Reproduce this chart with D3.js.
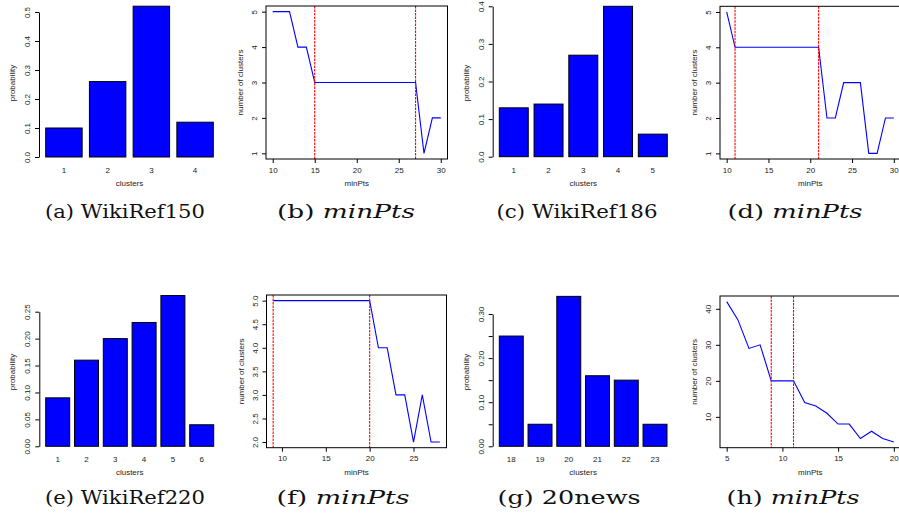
<!DOCTYPE html>
<html><head><meta charset="utf-8">
<script src="https://cdn.jsdelivr.net/npm/d3@7"></script>
<style>body{margin:0;background:#fff}svg{display:block}</style>
</head><body><svg id="c" width="899" height="522"></svg>
<script>
// ---------- data ----------
const clustersA = ["1","2","3","4"];
const probA = [0.10, 0.26, 0.52, 0.12];
const yTicksA = [0, 0.1, 0.2, 0.3, 0.4, 0.5];

const clustersC = ["1","2","3","4","5"];
const probC = [0.13, 0.14, 0.27, 0.40, 0.06];
const yTicksC = [0, 0.1, 0.2, 0.3, 0.4];

const clustersE = ["1","2","3","4","5","6"];
const probE = [0.09, 0.16, 0.20, 0.23, 0.28, 0.04];
const yTicksE = [0, 0.05, 0.10, 0.15, 0.20, 0.25];

const clustersG = ["18","19","20","21","22","23"];
const probG = [0.25, 0.05, 0.34, 0.16, 0.15, 0.05];
const yTicksG = [0, 0.05, 0.10, 0.15, 0.20, 0.25, 0.30];
const yLabelsG = [0, 0.10, 0.20, 0.30];

const minPtsB = [10,11,12,13,14,15,16,17,18,19,20,21,22,23,24,25,26,27,28,29,30];
const nClustB = [5,5,5,4,4,3,3,3,3,3,3,3,3,3,3,3,3,3,1,2,2];
const cutsB = [15, 27];

const minPtsD = [10,11,12,13,14,15,16,17,18,19,20,21,22,23,24,25,26,27,28,29,30];
const nClustD = [5,4,4,4,4,4,4,4,4,4,4,4,2,2,3,3,3,1,1,2,2];
const cutsD = [11, 21];

const minPtsF = [9,10,11,12,13,14,15,16,17,18,19,20,21,22,23,24,25,26,27,28];
const nClustF = [5,5,5,5,5,5,5,5,5,5,5,5,4,4,3,3,2,3,2,2];
const cutsF = [9, 20];

const minPtsH = [5,6,7,8,9,10,11,12,13,14,15,16,17,18,19,20];
const nClustH = [42,37,29,30,20,20,20,14,13,11,8,8,4,6,4,3];
const cutsH = [9, 11];

const xTicksBD = [10,15,20,25,30];
const yTicksBD = [1,2,3,4,5];
const xTicksF = [10,15,20,25];
const yTicksF = [2.0,2.5,3.0,3.5,4.0,4.5,5.0];
const xTicksH = [5,10,15,20];
const yTicksH = [10,20,30,40];

const captions = [
  {lab:"(a) ", name:"WikiRef150", it:false},
  {lab:"(b) ", name:"minPts", it:true},
  {lab:"(c) ", name:"WikiRef186", it:false},
  {lab:"(d) ", name:"minPts", it:true},
  {lab:"(e) ", name:"WikiRef220", it:false},
  {lab:"(f) ", name:"minPts", it:true},
  {lab:"(g) ", name:"20news", it:false},
  {lab:"(h) ", name:"minPts", it:true}
];

// ---------- drawing ----------
const svg = d3.select("#c");
const FONT = "Liberation Sans";
const SERIF = "DejaVu Serif";
const TXT = "#222";

function styleYAxis(g, offset){
  g.selectAll(".tick line").attr("stroke","#000");
  g.selectAll(".tick text")
    .attr("x",0).attr("dy",null).attr("y",0)
    .attr("text-anchor","middle")
    .attr("transform",`translate(${-offset},0) rotate(-90)`)
    .attr("fill",TXT)
    .attr("font-family",FONT).attr("font-size",8);
}

function barPanel(o){
  const g = svg.append("g");
  const x = d3.scaleBand().domain(o.cats).range(o.xr).paddingInner(1/6).paddingOuter(0);
  const y = d3.scaleLinear().domain(o.yd).range(o.yr);
  g.selectAll("rect.bar").data(o.vals).join("rect")
    .attr("x",(d,i)=>x(o.cats[i])).attr("width",x.bandwidth())
    .attr("y",d=>y(d)).attr("height",d=>y(0)-y(d))
    .attr("fill","#0000ff").attr("stroke","#000").attr("stroke-width",1);
  const ax = g.append("g").attr("transform",`translate(${o.axisX},0)`)
    .call(d3.axisLeft(y).tickValues(o.ticks).tickSize(4).tickSizeOuter(0)
      .tickFormat(d=> (o.labs ? (o.labs.some(v=>Math.abs(v-d)<1e-9) ? d3.format(o.fmt)(d) : "") : d3.format(o.fmt)(d))));
  ax.select(".domain").attr("stroke","#000");
  styleYAxis(ax, 9);
  g.selectAll("text.xl").data(o.cats).join("text")
    .attr("x",d=>x(d)+x.bandwidth()/2).attr("y",o.tickBase)
    .attr("text-anchor","middle").attr("fill",TXT)
    .attr("font-family",FONT).attr("font-size",8).text(d=>d);
  g.append("text").attr("x",(o.xr[0]+o.xr[1])/2).attr("y",o.titleBase)
    .attr("text-anchor","middle").attr("fill",TXT)
    .attr("font-family",FONT).attr("font-size",8).text("clusters");
  g.append("text").attr("transform",`translate(${o.axisX-24},${o.ymid}) rotate(-90)`)
    .attr("text-anchor","middle").attr("fill",TXT)
    .attr("font-family",FONT).attr("font-size",8).text("probability");
}

function linePanel(o){
  const g = svg.append("g");
  const xmin=d3.min(o.xs), xmax=d3.max(o.xs), ymin=d3.min(o.ys), ymax=d3.max(o.ys);
  const px=(xmax-xmin)*0.04, py=(ymax-ymin)*0.04;
  const x = d3.scaleLinear().domain([xmin-px, xmax+px]).range([o.box[0], o.box[1]]);
  const y = d3.scaleLinear().domain([ymin-py, ymax+py]).range([o.box[3], o.box[2]]);
  g.append("path").datum(o.xs.map((v,i)=>[v,o.ys[i]]))
    .attr("d", d3.line().x(d=>x(d[0])).y(d=>y(d[1])))
    .attr("fill","none").attr("stroke","#0000ff").attr("stroke-width",1.1);
  g.selectAll("line.cut").data(o.cuts).join("line")
    .attr("x1",d=>x(d)).attr("x2",d=>x(d))
    .attr("y1",o.box[2]).attr("y2",o.box[3])
    .attr("stroke","#ff0000").attr("stroke-width",1.1).attr("stroke-dasharray","2.5,1");
  g.append("rect").attr("x",o.box[0]).attr("y",o.box[2])
    .attr("width",o.box[1]-o.box[0]).attr("height",o.box[3]-o.box[2])
    .attr("fill","none").attr("stroke","#000").attr("stroke-width",1);
  const ax = g.append("g").attr("transform",`translate(${o.box[0]},0)`)
    .call(d3.axisLeft(y).tickValues(o.yt).tickSize(4).tickFormat(d3.format(o.yfmt)));
  ax.select(".domain").remove();
  styleYAxis(ax, 9);
  const bx = g.append("g").attr("transform",`translate(0,${o.box[3]})`)
    .call(d3.axisBottom(x).tickValues(o.xt).tickSize(4).tickFormat(d3.format("d")));
  bx.select(".domain").remove();
  bx.selectAll(".tick line").attr("stroke","#000");
  bx.selectAll(".tick text").attr("dy",null).attr("y",o.tickBase-o.box[3])
    .attr("fill",TXT).attr("font-family",FONT).attr("font-size",8);
  g.append("text").attr("x",(o.box[0]+o.box[1])/2).attr("y",o.titleBase)
    .attr("text-anchor","middle").attr("fill",TXT)
    .attr("font-family",FONT).attr("font-size",8).text("minPts");
  g.append("text").attr("transform",`translate(${o.box[0]-23},${(o.box[2]+o.box[3])/2}) rotate(-90)`)
    .attr("text-anchor","middle").attr("fill",TXT)
    .attr("font-family",FONT).attr("font-size",8).text("number of clusters");
}

const TOP_TICK=172.5, TOP_TITLE=186, BOT_TICK=461.5, BOT_TITLE=475;

barPanel({cats:clustersA, vals:probA, xr:[45.7,213.3], yd:[0,0.5], yr:[157,12], axisX:39,
  ticks:yTicksA, fmt:".1f", tickBase:TOP_TICK, titleBase:TOP_TITLE, ymid:83});
linePanel({xs:minPtsB, ys:nClustB, cuts:cutsB, box:[266,447.5,6,159], xt:xTicksBD, yt:yTicksBD,
  yfmt:"d", tickBase:TOP_TICK, titleBase:TOP_TITLE});
barPanel({cats:clustersC, vals:probC, xr:[499.3,667.3], yd:[0,0.4], yr:[156.7,6.3], axisX:492.7,
  ticks:yTicksC, fmt:".1f", tickBase:TOP_TICK, titleBase:TOP_TITLE, ymid:83});
linePanel({xs:minPtsD, ys:nClustD, cuts:cutsD, box:[720,900.5,6.3,159], xt:xTicksBD, yt:yTicksBD,
  yfmt:"d", tickBase:TOP_TICK, titleBase:TOP_TITLE});

barPanel({cats:clustersE, vals:probE, xr:[45.7,213.7], yd:[0,0.25], yr:[446.3,311.7], axisX:39.3,
  ticks:yTicksE, fmt:".2f", tickBase:BOT_TICK, titleBase:BOT_TITLE, ymid:372});
linePanel({xs:minPtsF, ys:nClustF, cuts:cutsF, box:[266.5,446.5,295,447.7], xt:xTicksF, yt:yTicksF,
  yfmt:".1f", tickBase:BOT_TICK, titleBase:BOT_TITLE});
barPanel({cats:clustersG, vals:probG, xr:[499.3,667], yd:[0,0.30], yr:[446.3,314], axisX:492.7,
  ticks:yTicksG, labs:yLabelsG, fmt:".2f", tickBase:BOT_TICK, titleBase:BOT_TITLE, ymid:372});
linePanel({xs:minPtsH, ys:nClustH, cuts:cutsH, box:[720,900.5,296,447.7], xt:xTicksH, yt:yTicksH,
  yfmt:"d", tickBase:BOT_TICK, titleBase:BOT_TITLE});

// captions
const capPos = [
  {cx:125, y:218, w:160},{cx:346, y:218, w:138},{cx:577, y:218, w:161},{cx:795, y:218, w:135},
  {cx:125, y:504, w:160},{cx:343, y:504, w:133},{cx:569, y:504, w:143},{cx:793, y:504, w:133}
];
captions.forEach((c,i)=>{
  const p = capPos[i];
  const t = svg.append("text").attr("x",p.cx-p.w/2).attr("y",p.y)
    .attr("textLength",p.w).attr("lengthAdjust","spacingAndGlyphs")
    .attr("fill","#111").attr("font-family",SERIF).attr("font-size",19);
  t.append("tspan").text(c.lab);
  t.append("tspan").attr("font-style", c.it ? "italic" : "normal").text(c.name);
});
</script>
</body></html>
